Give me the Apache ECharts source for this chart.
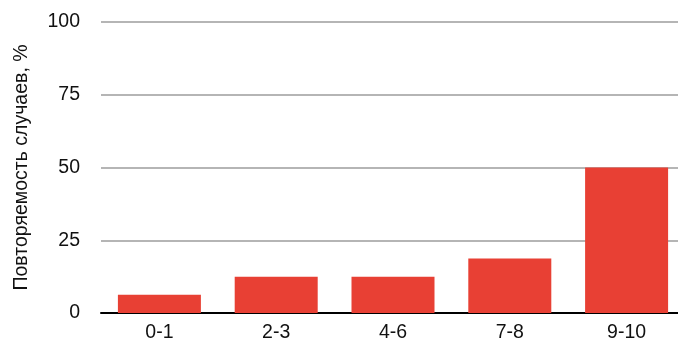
<!DOCTYPE html>
<html><head><meta charset="utf-8">
<script src="https://cdn.jsdelivr.net/npm/echarts@6/dist/echarts.min.js"></script>
<style>html,body{margin:0;padding:0;background:#fff}#c{width:678px;height:344px}</style>
</head><body><div id="c"></div>
<script>
const categories = ['0-1', '2-3', '4-6', '7-8', '9-10'];
const values = [6.25, 12.5, 12.5, 18.75, 50];
const yTicks = [0, 25, 50, 75, 100];
const yTitle = 'Повторяемость случаев, %';

const FONT = 'Liberation Sans, Arial, sans-serif';
const chart = echarts.init(document.getElementById('c'), null, {renderer: 'canvas'});
chart.setOption({
  animation: false,
  grid: {left: 101, width: 584, top: 22, bottom: 31, containLabel: false, outerBoundsMode: 'none'},
  xAxis: {
    type: 'category', data: categories,
    axisLine: {show: true, lineStyle: {color: '#000', width: 2}},
    axisTick: {show: false},
    axisLabel: {color: '#111', fontSize: 19.5, fontFamily: FONT, margin: 10}
  },
  yAxis: {
    type: 'value', min: yTicks[0], max: yTicks[yTicks.length - 1], interval: 25,
    name: yTitle, nameLocation: 'middle', nameGap: 69, nameRotate: 90,
    nameTextStyle: {color: '#111', fontSize: 19.5, fontFamily: FONT},
    axisLine: {show: false}, axisTick: {show: false},
    axisLabel: {color: '#111', fontSize: 19.5, fontFamily: FONT, margin: 21},
    splitLine: {lineStyle: {color: '#b5b5b5', width: 2}}
  },
  series: [{
    type: 'bar', data: values, barWidth: 83,
    itemStyle: {color: '#E84034'}
  }]
});
</script></body></html>
